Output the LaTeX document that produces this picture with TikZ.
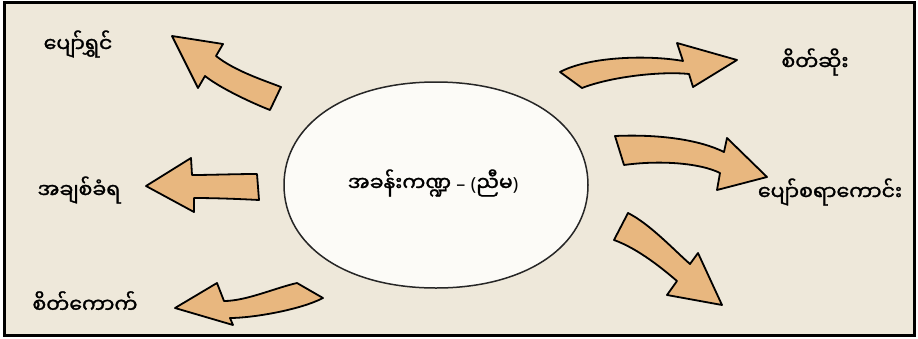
\documentclass[tikz,border=0pt]{standalone}
\usepackage{fontspec}
\setmainfont{Noto Sans}
\newfontfamily\mmfont[Script=Myanmar, FakeBold=1.3]{Noto Sans Myanmar UI}
\definecolor{paper}{HTML}{EEE8DA}
\definecolor{arrowtan}{HTML}{E8B77F}
\definecolor{bubble}{HTML}{FCFBF7}
\tikzset{
  blockarrow/.style={fill=arrowtan, draw=black, line width=1.8pt, line join=round},
  mmtext/.style={font=\mmfont\fontsize{20.5}{24}\selectfont, inner sep=0pt},
  bubbleline/.style={fill=bubble, draw=black!85, line width=1.5pt}
}
\begin{document}
\begin{tikzpicture}[x=1pt,y=-1pt]
\useasboundingbox (0,0) rectangle (918,338);
\fill[white] (0,0) rectangle (918,338);
\filldraw[fill=paper, draw=black, line width=3pt] (4.5,2.5) rectangle (914.5,335.5);
\filldraw[bubbleline] (588,185) .. controls (588,124) and (526,82) .. (436,82) .. controls (346,82) and (284,124) .. (284,185) .. controls (284,246) and (346,288) .. (436,288) .. controls (526,288) and (588,246) .. (588,185) -- cycle;
\node[mmtext] (role) at (433,183) {အခန်းကဏ္ဍ {\rmfamily\fontsize{18}{22}\selectfont –} {\rmfamily\fontsize{18}{22}\selectfont (}ညီမ{\rmfamily\fontsize{18}{22}\selectfont )}};
\node[mmtext] (happy) at (78,44) {ပျော်ရွှင်};
\node[mmtext] (loved) at (79,190) {အချစ်ခံရ};
\node[mmtext] (sulky) at (85,302) {စိတ်ကောက်};
\node[mmtext] (angry) at (815,62) {စိတ်ဆိုး};
\node[mmtext] (fun) at (830,192) {ပျော်စရာကောင်း};
\filldraw[blockarrow] (281,87) .. controls (263,80) and (235,71) .. (216,56) -- (223,44) -- (172,36) -- (198,88) -- (205,76) .. controls (220,88) and (252,103) .. (270,110) -- cycle;
\filldraw[blockarrow] (257,174) .. controls (235,174) and (210,175) .. (192,175) -- (191,158) -- (146,186) -- (194,212) -- (194,198) .. controls (215,198) and (240,199) .. (259,200) -- cycle;
\filldraw[blockarrow] (297,283) .. controls (275,288) and (246,301) .. (224,301) -- (217,283) -- (175,308) -- (233,325) -- (230,318) .. controls (252,318) and (300,310) .. (323,298) -- cycle;
\filldraw[blockarrow] (560,72) .. controls (590,56) and (650,55) .. (683,61) -- (677,43) -- (737,60) -- (693,87) -- (689,74) .. controls (660,71) and (610,77) .. (582,88) -- cycle;
\filldraw[blockarrow] (615,136) .. controls (660,134) and (700,140) .. (724,152) -- (727,138) -- (767,177) -- (717,190) -- (720,173) .. controls (700,163) and (660,160) .. (624,165) -- cycle;
\filldraw[blockarrow] (628,213) .. controls (650,224) and (675,251) .. (690,264) -- (698,253) -- (722,305) -- (667,295) -- (677,281) .. controls (664,270) and (639,249) .. (614,240) -- cycle;
\end{tikzpicture}
\end{document}
